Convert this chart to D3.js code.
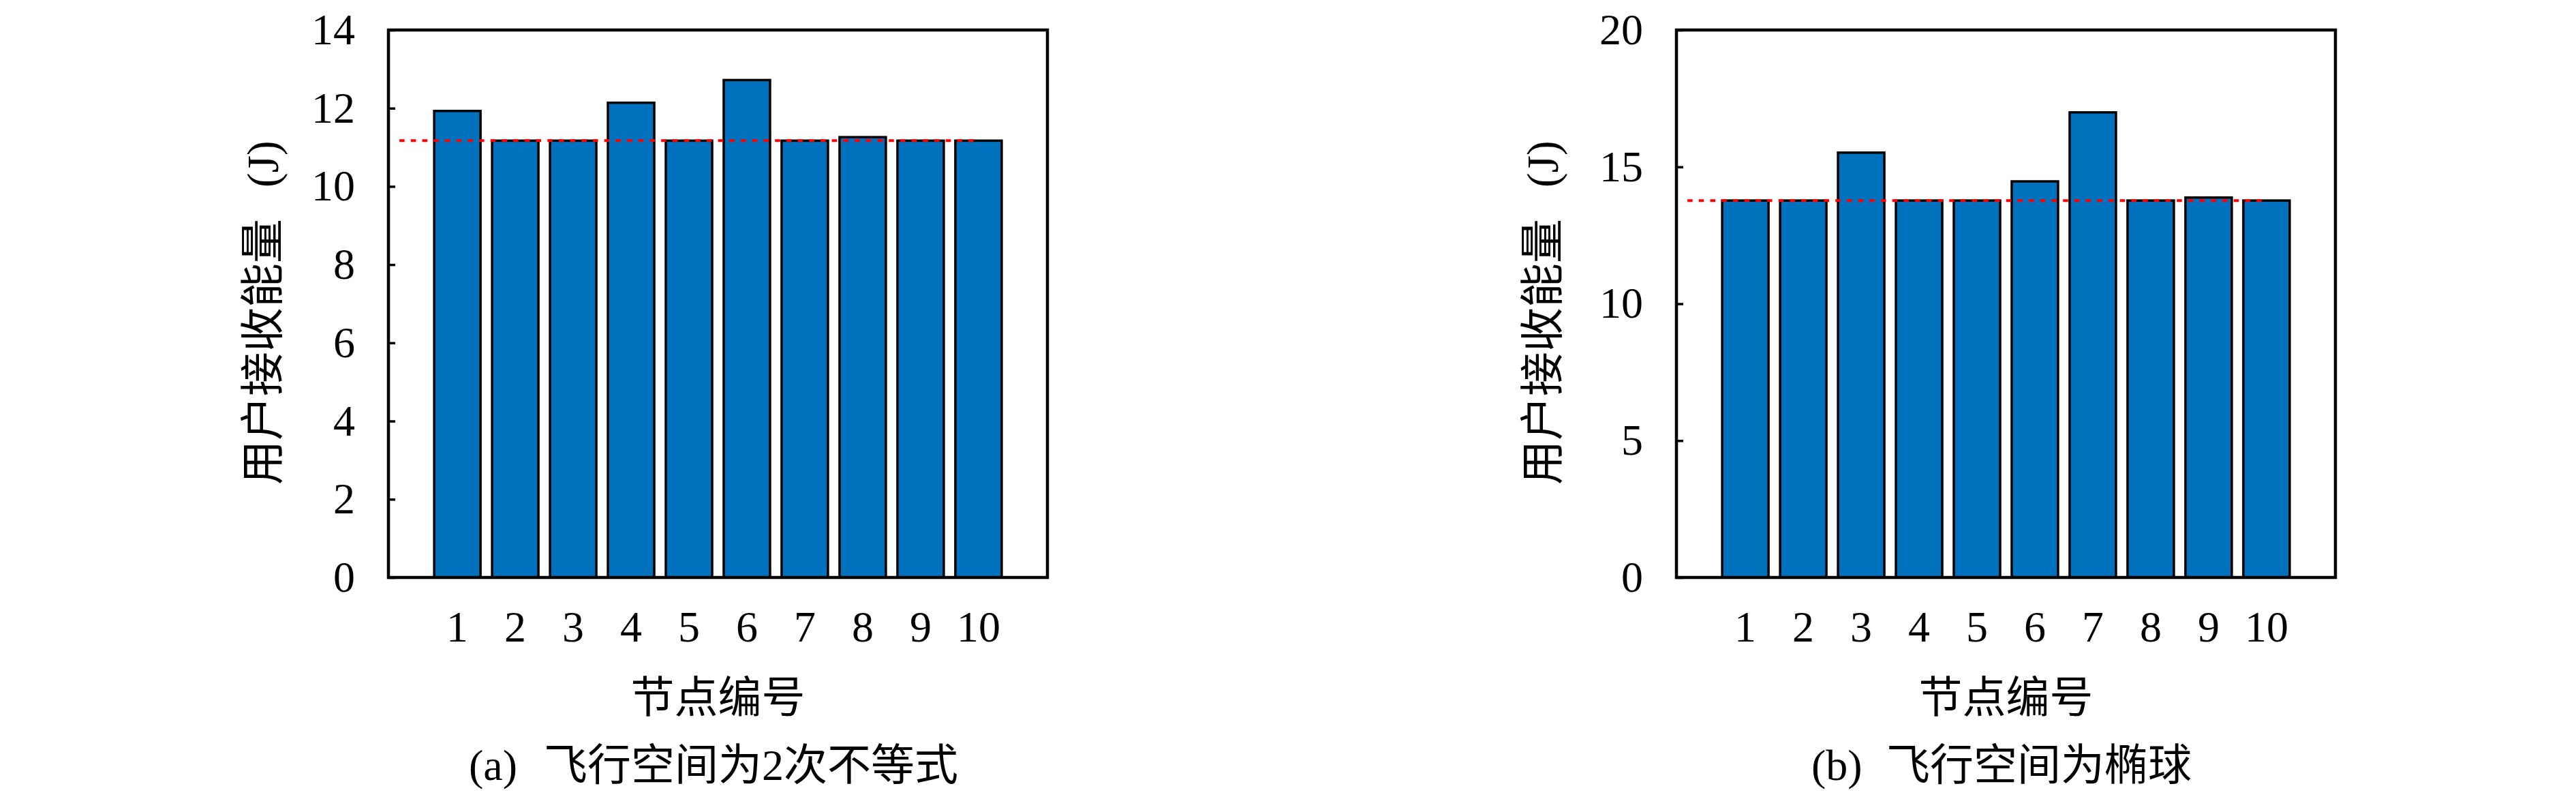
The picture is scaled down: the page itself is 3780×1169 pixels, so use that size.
<!DOCTYPE html>
<html>
<head>
<meta charset="utf-8">
<script src="https://cdn.jsdelivr.net/npm/d3@7"></script>
<style>
  body { margin: 0; background: #fff; }
  svg { display: block; }
</style>
</head>
<body>
<div id="chart"></div>
<script>
// node ids on the x axis
var nodes = [1, 2, 3, 4, 5, 6, 7, 8, 9, 10];

// (a) quadratic-inequality flight space
var energyA = [11.93, 11.17, 11.17, 12.14, 11.17, 12.72, 11.17, 11.26, 11.17, 11.17];
var meanA = 11.17;
var yTicksA = [0, 2, 4, 6, 8, 10, 12, 14];

// (b) ellipsoid flight space
var energyB = [13.77, 13.77, 15.52, 13.77, 13.77, 14.47, 16.99, 13.77, 13.88, 13.77];
var meanB = 13.77;
var yTicksB = [0, 5, 10, 15, 20];

var lineSpan = [0, 10];
var yLabel = ["用户接收能量", "(J)"];
var xLabel = "节点编号";
var captionA = ["(a)", "飞行空间为2次不等式"];
var captionB = ["(b)", "飞行空间为椭球"];

var W = 3780, H = 1169;
var font = "'Liberation Serif', 'Noto Sans CJK SC', serif";
var color = {
    bar: "#0072bd",
    mean: "#ff0000",
};

var svg = d3.select("#chart").append("svg")
    .attr("width", W)
    .attr("height", H)
    .style("background", "#fff");

function drawPanel(opt) {
    var left = opt.left, right = opt.left + 967;
    var top = 44, bottom = 847;

    var x = d3.scaleLinear().domain([-0.19, 11.19]).range([left, right]);
    var y = d3.scaleLinear().domain([0, opt.ymax]).range([bottom, top]);

    var g = svg.append("g");

    // bars
    g.selectAll("rect.bar")
        .data(opt.values)
        .enter().append("rect")
        .attr("class", "bar")
        .attr("x", function (d, i) { return x(nodes[i] - 0.4); })
        .attr("width", x(0.8) - x(0))
        .attr("y", function (d) { return y(d); })
        .attr("height", function (d) { return y(0) - y(d); })
        .style("fill", color.bar)
        .style("stroke", "#000")
        .style("stroke-width", 3.5);

    // mean line
    g.append("line")
        .attr("x1", x(lineSpan[0]))
        .attr("x2", x(lineSpan[1]))
        .attr("y1", y(opt.mean))
        .attr("y2", y(opt.mean))
        .style("stroke", color.mean)
        .style("stroke-width", 4)
        .style("stroke-dasharray", "7.5,9.2");

    // y axis: inward ticks, labels
    var yAxis = d3.axisLeft(y)
        .tickValues(opt.ticks)
        .tickSizeInner(-10)
        .tickSizeOuter(0)
        .tickPadding(49);
    var ga = g.append("g")
        .attr("transform", "translate(" + left + ",0)")
        .call(yAxis);
    ga.select(".domain").remove();
    ga.selectAll(".tick line").style("stroke", "#000").style("stroke-width", 3.5);
    ga.selectAll(".tick text")
        .style("font-family", font)
        .style("font-size", "64px")
        .attr("dy", "0.32em");

    // x tick labels
    g.selectAll("text.xt")
        .data(nodes)
        .enter().append("text")
        .attr("class", "xt")
        .attr("x", function (d) { return x(d); })
        .attr("y", 941)
        .attr("text-anchor", "middle")
        .style("font-family", font)
        .style("font-size", "64px")
        .text(function (d) { return d; });

    // box
    g.append("rect")
        .attr("x", left)
        .attr("y", top)
        .attr("width", right - left)
        .attr("height", bottom - top)
        .style("fill", "none")
        .style("stroke", "#000")
        .style("stroke-width", 4.5);

    // axis titles
    var yl = g.append("text")
        .attr("transform", "translate(" + opt.ylabelX + ",711) rotate(-90)")
        .attr("text-anchor", "start")
        .style("font-family", font)
        .style("font-size", "65px");
    yl.append("tspan").text(yLabel[0]);
    yl.append("tspan").attr("dx", 46).text(yLabel[1]);

    g.append("text")
        .attr("x", (left + right) / 2)
        .attr("y", 1045)
        .attr("text-anchor", "middle")
        .style("font-family", font)
        .style("font-size", "64px")
        .text(xLabel);

    // caption
    var cap = g.append("text")
        .attr("y", 1144)
        .style("font-family", font)
        .style("font-size", "64px");
    cap.append("tspan").attr("x", opt.capX).text(opt.caption[0]);
    cap.append("tspan").attr("x", opt.capX + 110).text(opt.caption[1]);
}

drawPanel({ left: 570, values: energyA, mean: meanA, ymax: 14, ticks: yTicksA,
    ylabelX: 408, capX: 688, caption: captionA });
drawPanel({ left: 2460, values: energyB, mean: meanB, ymax: 20, ticks: yTicksB,
    ylabelX: 2286, capX: 2658, caption: captionB });
</script>
</body>
</html>
